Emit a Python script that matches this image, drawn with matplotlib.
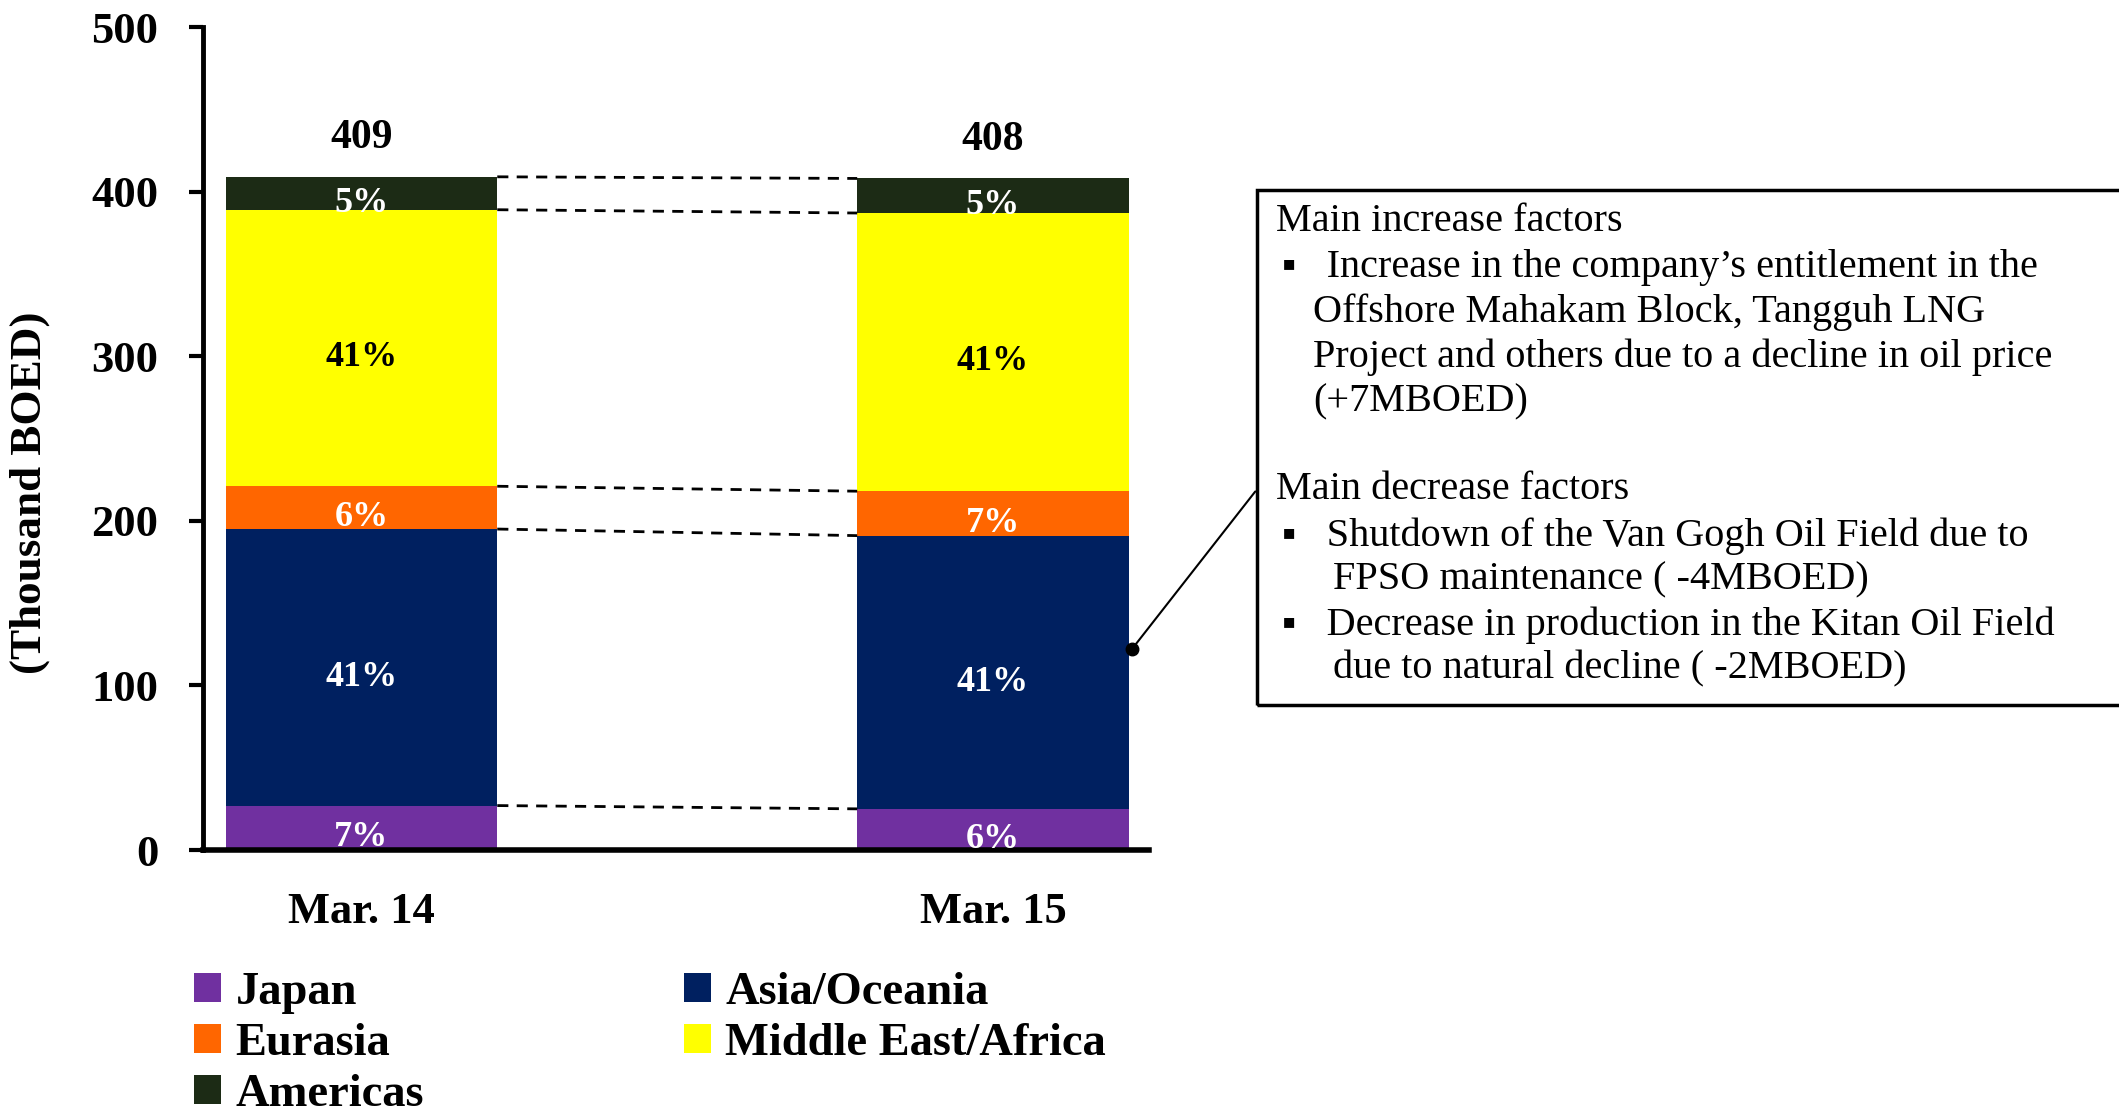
import numpy as np
import matplotlib
matplotlib.use("Agg")
from matplotlib import pyplot as plt
from matplotlib.patches import Patch

plt.rcParams['font.family'] = ['Liberation Serif', 'DejaVu Sans']

periods = ["Mar. 14", "Mar. 15"]
totals = [409, 408]
regions = ["Japan", "Asia/Oceania", "Eurasia", "Middle East/Africa", "Americas"]
japan = [27, 25]
asia = [168, 166]
eurasia = [26, 27]
mea = [168, 169]
americas = [20, 21]
pct_labels = [["7%", "41%", "6%", "41%", "5%"],
              ["6%", "41%", "7%", "41%", "5%"]]
colors = ["#7030A0", "#002060", "#FF6600", "#FFFF00", "#1C2B15"]
text_colors = ["white", "white", "white", "black", "white"]

increase_lines = [
    "Main increase factors",
    "\u25aa   Increase in the company\u2019s entitlement in the",
    "Offshore Mahakam Block, Tangguh LNG",
    "Project and others due to a decline in oil price",
    "(+7MBOED)",
]
decrease_lines = [
    "Main decrease factors",
    "\u25aa   Shutdown of the Van Gogh Oil Field due to",
    "FPSO maintenance ( -4MBOED)",
    "\u25aa   Decrease in production in the Kitan Oil Field",
    "due to natural decline ( -2MBOED)",
]

fig = plt.figure(figsize=(21.19, 11.12), dpi=100)
ax = fig.add_axes([0.0958, 0.2356, 0.4464, 0.7401])

series = np.array([japan, asia, eurasia, mea, americas])
x = np.arange(len(periods))
width = 0.43
bottoms = np.zeros(len(periods))
tops = []
for i, vals in enumerate(series):
    ax.bar(x, vals, width, bottom=bottoms, color=colors[i], label=regions[i])
    for j in range(len(periods)):
        ax.text(x[j], bottoms[j] + vals[j] / 2 - 6, pct_labels[j][i],
                ha="center", va="center", fontsize=26, fontweight="bold",
                color=text_colors[i])
    bottoms = bottoms + vals
    tops.append(bottoms.copy())

# dashed connectors between segment tops
for t in tops:
    ax.plot([x[0] + width / 2, x[1] - width / 2], [t[0], t[1]],
            color="black", linestyle=(0, (4, 3)), linewidth=2)

for j in range(len(periods)):
    ax.text(x[j], totals[j] + 12, str(totals[j]), ha="center", va="bottom",
            fontsize=30, fontweight="bold")

ax.set_xlim(-0.251, 1.247)
ax.set_ylim(0, 500)
ax.set_yticks(np.arange(0, 501, 100))
ax.set_xticks(x)
ax.set_xticklabels(periods, fontsize=32, fontweight="bold")
ax.tick_params(axis="x", length=0, pad=30)
ax.tick_params(axis="y", length=10, width=3, labelsize=32, pad=22)
for lab in ax.get_yticklabels():
    lab.set_fontweight("bold")
ax.spines["top"].set_visible(False)
ax.spines["right"].set_visible(False)
ax.spines["left"].set_linewidth(3.5)
ax.spines["bottom"].set_linewidth(4)
ax.set_ylabel("(Thousand BOED)", fontsize=32.5, fontweight="bold")
ax.yaxis.set_label_coords(-0.162, 0.434)

# leader line to the box
ax.plot([1.22], [122], "o", color="black", markersize=9, clip_on=False)
ax.annotate("", xy=(1.22, 122), xycoords="data",
            xytext=(0.5932, 0.560), textcoords="figure fraction",
            arrowprops=dict(arrowstyle="-", color="black", lw=1.5))

# explanation box
box = plt.Rectangle((0.5932, 0.366), 0.45, 0.463, transform=fig.transFigure,
                    fill=False, edgecolor="black", linewidth=2.5, clip_on=False)
fig.add_artist(box)

line_y = [0.8007, 0.7594, 0.7193, 0.6791, 0.639]
line_x = [0.6022, 0.6052, 0.6196, 0.6196, 0.6196]
for txt, lx, ly in zip(increase_lines, line_x, line_y):
    fig.text(lx, ly, txt, fontsize=29, va="center", ha="left")
line_y2 = [0.560, 0.5175, 0.4786, 0.4373, 0.3984]
line_x2 = [0.6022, 0.6052, 0.6292, 0.6052, 0.6292]
for txt, lx, ly in zip(decrease_lines, line_x2, line_y2):
    fig.text(lx, ly, txt, fontsize=29, va="center", ha="left")

handles = [Patch(facecolor=colors[k]) for k in [0, 2, 4, 1, 3]]
labels = [regions[k] for k in [0, 2, 4, 1, 3]]
fig.legend(handles, labels, ncol=2, loc="upper left",
           bbox_to_anchor=(0.083, 0.143), frameon=False,
           prop={"size": 33.5, "weight": "bold"},
           handlelength=0.58, handleheight=0.58, handletextpad=0.3,
           columnspacing=5.6, labelspacing=0.2, borderaxespad=0)

fig.savefig("out.png", dpi=100)
